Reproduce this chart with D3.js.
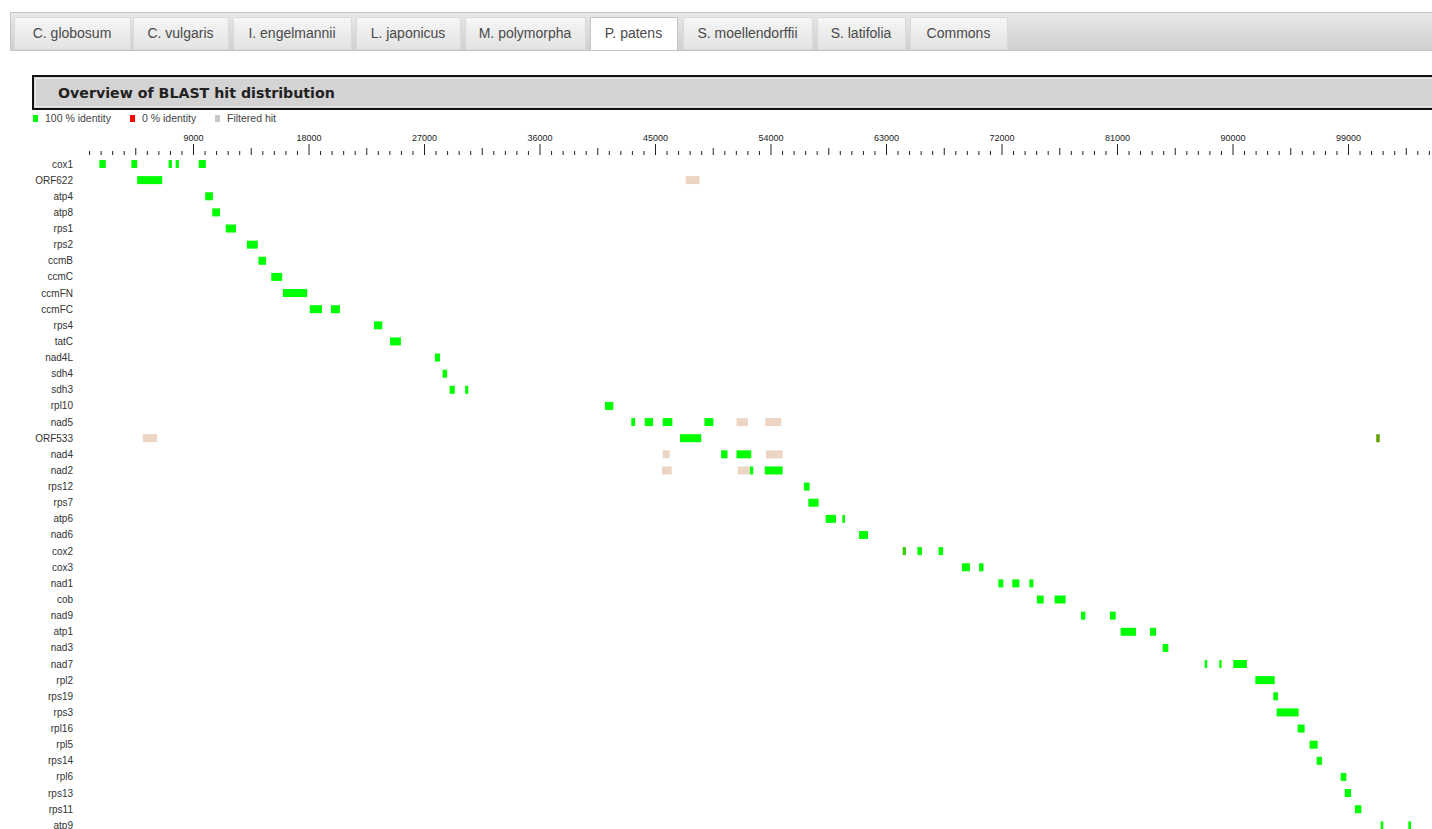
<!DOCTYPE html>
<html>
<head>
<meta charset="utf-8">
<script src="https://d3js.org/d3.v7.min.js"></script>
<style>
  body { margin: 0; background: #fff; overflow: hidden; }
  text { font-family: "Liberation Sans", Arial, sans-serif; }
  .tab text { font-size: 14px; fill: #4a4a4a; }
  .title { font-family: "DejaVu Sans", Verdana, sans-serif; font-weight: bold; font-size: 14.2px; fill: #222; }
  .legend text { font-size: 10.5px; fill: #444; }
  .axis text { font-size: 9px; fill: #222; }
  .axis line { stroke: #222; }
  .gene { font-size: 10px; fill: #333; }
</style>
</head>
<body>
<div id="chart"></div>
<script>
// tabs above the chart
const tabs = ["C. globosum", "C. vulgaris", "I. engelmannii", "L. japonicus", "M. polymorpha",
  "P. patens", "S. moellendorffii", "S. latifolia", "Commons"];
const activeTab = "P. patens";

const genes = ["cox1", "ORF622", "atp4", "atp8", "rps1", "rps2", "ccmB", "ccmC", "ccmFN", "ccmFC",
  "rps4", "tatC", "nad4L", "sdh4", "sdh3", "rpl10", "nad5", "ORF533", "nad4", "nad2",
  "rps12", "rps7", "atp6", "nad6", "cox2", "cox3", "nad1", "cob", "nad9", "atp1",
  "nad3", "nad7", "rpl2", "rps19", "rps3", "rpl16", "rpl5", "rps14", "rpl6", "rps13",
  "rps11", "atp9"];

// [gene, start, end, % identity]
const hits = [
  ["cox1", 1700, 2200, 100], ["cox1", 4200, 4650, 100], ["cox1", 7100, 7350, 100],
  ["cox1", 7650, 7900, 100], ["cox1", 9450, 10000, 100],
  ["ORF622", 4650, 6600, 100],
  ["atp4", 9950, 10550, 100],
  ["atp8", 10500, 11100, 100],
  ["rps1", 11550, 12350, 100],
  ["rps2", 13200, 14050, 100],
  ["ccmB", 14100, 14700, 100],
  ["ccmC", 15100, 15950, 100],
  ["ccmFN", 16000, 17900, 100],
  ["ccmFC", 18100, 19050, 100], ["ccmFC", 19750, 20450, 100],
  ["rps4", 23100, 23750, 100],
  ["tatC", 24350, 25200, 100],
  ["nad4L", 27850, 28250, 100],
  ["sdh4", 28450, 28800, 100],
  ["sdh3", 29000, 29400, 100], ["sdh3", 30200, 30450, 100],
  ["rpl10", 41100, 41750, 100],
  ["nad5", 43150, 43450, 100], ["nad5", 44200, 44850, 100], ["nad5", 45600, 46350, 100],
  ["nad5", 48850, 49550, 100],
  ["ORF533", 46950, 48600, 100], ["ORF533", 101200, 101470, 62],
  ["nad4", 50150, 50650, 100], ["nad4", 51350, 52500, 100],
  ["nad2", 52400, 52650, 100], ["nad2", 53550, 54950, 100],
  ["rps12", 56600, 57050, 100],
  ["rps7", 56950, 57750, 100],
  ["atp6", 58300, 59100, 100], ["atp6", 59600, 59800, 100],
  ["nad6", 60900, 61600, 100],
  ["cox2", 64300, 64550, 80], ["cox2", 65450, 65800, 100], ["cox2", 67100, 67450, 100],
  ["cox3", 68920, 69540, 100], ["cox3", 70250, 70600, 100],
  ["nad1", 71750, 72140, 100], ["nad1", 72840, 73390, 100], ["nad1", 74170, 74480, 100],
  ["cob", 74760, 75290, 100], ["cob", 76140, 77000, 100],
  ["nad9", 78190, 78530, 100], ["nad9", 80450, 80900, 100],
  ["atp1", 81280, 82480, 100], ["atp1", 83570, 84040, 100],
  ["nad3", 84560, 85000, 100],
  ["nad7", 87830, 88030, 100], ["nad7", 88970, 89150, 100], ["nad7", 90060, 91120, 100],
  ["rpl2", 91780, 93290, 100],
  ["rps19", 93180, 93550, 100],
  ["rps3", 93440, 95160, 100],
  ["rpl16", 95080, 95620, 100],
  ["rpl5", 96010, 96640, 100],
  ["rps14", 96560, 96980, 100],
  ["rpl6", 98430, 98870, 100],
  ["rps13", 98740, 99240, 100],
  ["rps11", 99540, 100040, 100],
  ["atp9", 101550, 101750, 100], ["atp9", 103700, 103910, 100]
];

// [gene, start, end]
const filtered = [
  ["ORF622", 47390, 48480],
  ["nad5", 51350, 52250], ["nad5", 53600, 54850],
  ["ORF533", 5100, 6200],
  ["nad4", 45600, 46150], ["nad4", 53650, 54950],
  ["nad2", 45550, 46300], ["nad2", 51450, 52400]
];

const legendItems = [["100 % identity", "#00ff00"], ["0 % identity", "#ff0000"], ["Filtered hit", "#c8c8c8"]];

const width = 1432, height = 829;
const svg = d3.select("#chart").append("svg")
  .attr("width", width)
  .attr("height", height);

const defs = svg.append("defs");
const barGrad = defs.append("linearGradient").attr("id", "barGrad").attr("x1", 0).attr("x2", 0).attr("y1", 0).attr("y2", 1);
barGrad.append("stop").attr("offset", "0%").attr("stop-color", "#e9e9e9");
barGrad.append("stop").attr("offset", "100%").attr("stop-color", "#cfcfcf");
const tabGrad = defs.append("linearGradient").attr("id", "tabGrad").attr("x1", 0).attr("x2", 0).attr("y1", 0).attr("y2", 1);
tabGrad.append("stop").attr("offset", "0%").attr("stop-color", "#f6f6f6");
tabGrad.append("stop").attr("offset", "100%").attr("stop-color", "#e3e3e3");

// tab strip
svg.append("rect")
  .attr("x", 10.5).attr("y", 12.5)
  .attr("width", width).attr("height", 38)
  .attr("fill", "url(#barGrad)")
  .attr("stroke", "#c4c4c4");

const tabX = d3.scaleOrdinal().domain(tabs)
  .range([14, 133, 233, 356, 465, 590, 683, 817, 910]);
const tabW = d3.scaleOrdinal().domain(tabs)
  .range([116, 95, 118, 104, 120, 87, 129, 88, 97]);

const tabG = svg.selectAll("g.tab")
  .data(tabs)
  .enter()
  .append("g")
  .attr("class", "tab")
  .attr("transform", d => `translate(${tabX(d)},17)`);

tabG.append("rect")
  .attr("x", 0.5).attr("y", 0.5)
  .attr("width", d => tabW(d))
  .attr("height", d => d == activeTab ? 33 : 32)
  .attr("fill", d => d == activeTab ? "#ffffff" : "url(#tabGrad)")
  .attr("stroke", d => d == activeTab ? "#c4c4c4" : "#dadada");

tabG.append("text")
  .attr("x", d => tabW(d) / 2)
  .attr("y", 21)
  .style("text-anchor", "middle")
  .text(d => d);

// header box
svg.append("rect")
  .attr("x", 33).attr("y", 76)
  .attr("width", width).attr("height", 33)
  .attr("fill", "#d3d3d3")
  .attr("stroke", "#111")
  .attr("stroke-width", 2);
svg.append("rect")
  .attr("x", 35.5).attr("y", 78.5)
  .attr("width", width).attr("height", 28)
  .attr("fill", "none")
  .attr("stroke", "#ececec");
svg.append("text")
  .attr("class", "title")
  .attr("x", 58).attr("y", 98)
  .text("Overview of BLAST hit distribution");

// legend
const legend = svg.append("g").attr("class", "legend");
const legX = [33, 130, 215];
legendItems.forEach((d, i) => {
  legend.append("rect")
    .attr("x", legX[i]).attr("y", 115)
    .attr("width", 5).attr("height", 7)
    .attr("fill", d[1]);
  legend.append("text")
    .attr("x", legX[i] + 12).attr("y", 122)
    .text(d[0]);
});

// scales
const x = d3.scaleLinear()
  .domain([0, 110000])
  .range([77.5, 77.5 + 110000 * 115.5 / 9000]);

const y = d3.scalePoint()
  .domain(genes)
  .range([164, 164 + 41 * 16.13]);

const colour = d3.scaleLinear()
  .domain([0, 100])
  .range(["#ff0000", "#00ff00"]);

const xAxis = d3.axisTop(x)
  .tickValues(d3.range(900, 105400, 900))
  .tickSize(4)
  .tickPadding(3)
  .tickFormat(d => d % 9000 == 0 ? d : "");

const axisG = svg.append("g")
  .attr("class", "axis")
  .attr("transform", "translate(0,155)")
  .call(xAxis);
axisG.select(".domain").remove();
axisG.selectAll(".tick line")
  .attr("y2", d => d % 9000 == 0 ? -11 : (d % 4500 == 0 ? -7 : -4));
axisG.selectAll(".tick text")
  .attr("y", -14);

// gene labels
svg.selectAll("text.gene")
  .data(genes)
  .enter()
  .append("text")
  .attr("class", "gene")
  .attr("x", 73)
  .attr("y", d => y(d) + 3.5)
  .style("text-anchor", "end")
  .text(d => d);

// filtered hits
svg.selectAll("rect.filtered")
  .data(filtered)
  .enter()
  .append("rect")
  .attr("class", "filtered")
  .attr("x", d => x(d[1]))
  .attr("width", d => x(d[2]) - x(d[1]))
  .attr("y", d => y(d[0]) - 4)
  .attr("height", 8)
  .attr("fill", "#edd5c5");

// hits
svg.selectAll("rect.hit")
  .data(hits)
  .enter()
  .append("rect")
  .attr("class", "hit")
  .attr("x", d => x(d[1]))
  .attr("width", d => Math.max(2, x(d[2]) - x(d[1])))
  .attr("y", d => y(d[0]) - 4)
  .attr("height", 8)
  .attr("fill", d => colour(d[3]));
</script>
</body>
</html>
